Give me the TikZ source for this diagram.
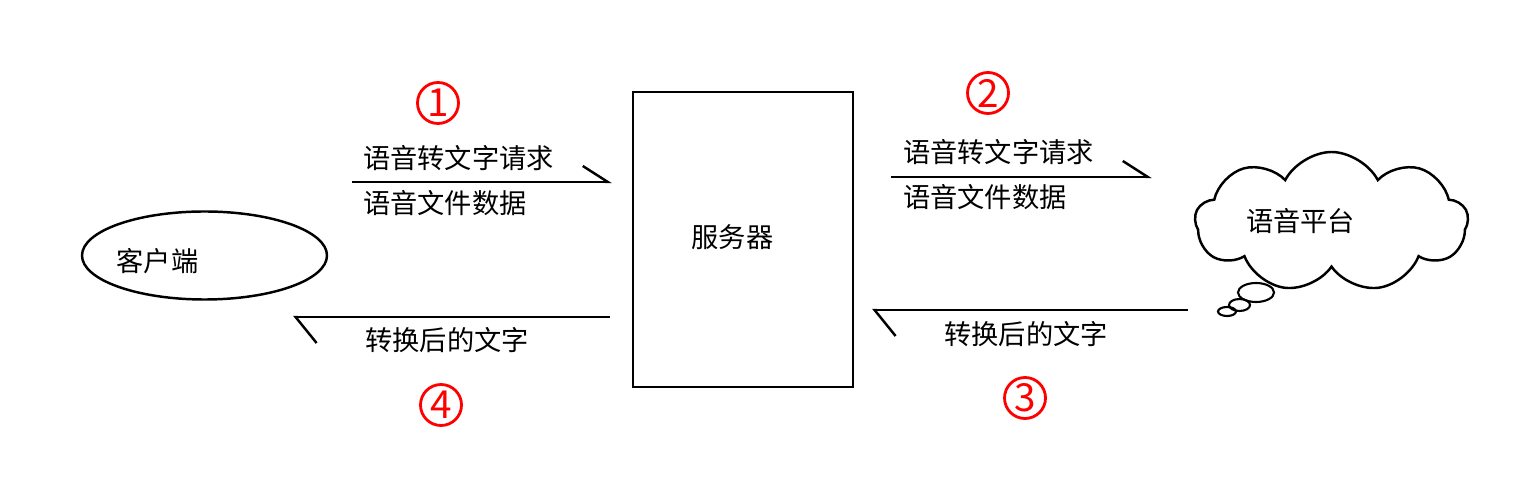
\documentclass[tikz,border=0pt]{standalone}
\usepackage{fontspec}
\setmainfont{Noto Sans CJK SC}
\usetikzlibrary{positioning,calc,arrows.meta,shapes.geometric,shapes.symbols}

\begin{document}
\begin{tikzpicture}[line width=1.4pt,
	lbl/.style={inner sep=0pt, font=\fontsize{15.5pt}{18pt}\selectfont},
	num/.style={circle, draw=red, text=red, line width=1.6pt, minimum size=0.82cm, inner sep=0pt, font=\fontsize{22pt}{22pt}\selectfont},
	fwd/.style={-{Straight Barb[harpoon, length=0.5cm, width=0.64cm]}},
	back/.style={-{Straight Barb[harpoon, length=0.42cm, width=1.04cm]}}]
	\useasboundingbox (0,0) rectangle (30.52,9.56);
	\begin{scope}
		\node[ellipse, draw, minimum width=4.9cm, minimum height=1.76cm, inner sep=0pt] (cli) at (4.09, 4.45) {};
		\node[lbl] (clitxt) at (3.15, 4.33) {客户端};

		\node[rectangle, draw, minimum width=4.4cm, minimum height=5.9cm, inner sep=0pt] (srv) at (14.86, 4.77) {};
		\node[lbl] (srvtxt) at (14.65, 4.82) {服务器};

		\node[cloud, draw, cloud puffs=9, cloud puff arc=125, minimum width=5.46cm, minimum height=2.8cm, inner sep=0pt] (plat) at (26.63, 5.12) {};
		\node[lbl] (plattxt) at (26.01, 5.14) {语音平台};
		\draw[line width=1.2pt] (25.12, 3.71) ellipse (0.36 and 0.19);
		\draw[line width=1.2pt] (24.79, 3.46) ellipse (0.21 and 0.12);
		\draw[line width=1.2pt] (24.54, 3.33) ellipse (0.18 and 0.09);

		% request: client -> server
		\coordinate (a1s) at (7.04, 5.92);
		\coordinate (a1e) at (12.24, 5.92);
		\draw[fwd] (a1s) to (a1e);
		\node[lbl, anchor=west] (req1) at (7.24, 6.4) {语音转文字请求};
		\node[lbl, anchor=west] (dat1) at (7.24, 5.5) {语音文件数据};
		\node[num] (n1) at (8.76, 7.5) {1};

		% request: server -> platform
		\coordinate (a2s) at (17.82, 6.02);
		\coordinate (a2e) at (23.04, 6.02);
		\draw[fwd] (a2s) to (a2e);
		\node[lbl, anchor=west] (req2) at (18.04, 6.52) {语音转文字请求};
		\node[lbl, anchor=west] (dat2) at (18.04, 5.62) {语音文件数据};
		\node[num] (n2) at (19.76, 7.7) {2};

		% reply: platform -> server
		\coordinate (a3s) at (23.76, 3.36);
		\coordinate (a3e) at (17.44, 3.36);
		\draw[back] (a3s) to (a3e);
		\node[lbl] (res3) at (20.52, 2.88) {转换后的文字};
		\node[num] (n3) at (20.5, 1.6) {3};

		% reply: server -> client
		\coordinate (a4s) at (12.2, 3.22);
		\coordinate (a4e) at (5.86, 3.22);
		\draw[back] (a4s) to (a4e);
		\node[lbl] (res4) at (8.94, 2.76) {转换后的文字};
		\node[num] (n4) at (8.82, 1.46) {4};
	\end{scope}
\end{tikzpicture}
\end{document}
